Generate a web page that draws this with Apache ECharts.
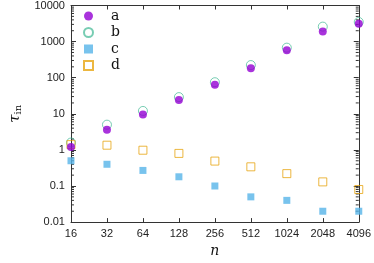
<!DOCTYPE html>
<html><head><meta charset="utf-8">
<script src="https://cdn.jsdelivr.net/npm/echarts@6/dist/echarts.min.js"></script>
<style>html,body{margin:0;padding:0;background:#fff}#c{width:374px;height:263px}</style>
</head><body><div id="c"></div>
<script>
const nValues = [16, 32, 64, 128, 256, 512, 1024, 2048, 4096];
const seriesA = [1.2, 3.6, 9.5, 24, 64, 183, 580, 1900, 3100];
const seriesB = [1.6, 5.0, 12, 29, 75, 224, 680, 2600, 3500];
const seriesC = [0.5, 0.4, 0.27, 0.18, 0.1, 0.05, 0.04, 0.02, 0.02];
const seriesD = [1.4, 1.35, 0.98, 0.8, 0.49, 0.34, 0.22, 0.13, 0.08];
const yTickLabels = ['0.01', '0.1', '1', '10', '100', '1000', '10000'];
const xTickLabels = ['16', '32', '64', '128', '256', '512', '1024', '2048', '4096'];

const minorTicks = [];
for (let e = -2; e < 4; e++) for (let m = 2; m <= 9; m++) minorTicks.push([16, m * Math.pow(10, e)]);

const pair = arr => nValues.map((n, i) => [n, arr[i]]);
const axisColor = '#333';
const labelFont = {fontFamily: 'Liberation Sans', fontSize: 11, color: '#222'};

const yFmt = v => yTickLabels[Math.round(Math.log10(v)) + 2] || '';
const xFmt = v => xTickLabels[Math.round(Math.log2(v)) - 4] || '';

const chart = echarts.init(document.getElementById('c'));
chart.setOption({
  animation: false,
  grid: {left: 61, right: 14, top: 5, bottom: 31},
  legend: {
    orient: 'vertical', left: 83, top: 9, itemWidth: 9, itemHeight: 9, itemGap: 2.5, padding: 0,
    textStyle: {fontFamily: 'DejaVu Serif', fontSize: 14, lineHeight: 14, color: '#111', padding: [0, 0, 0, 13]},
    data: ['a', 'b', 'c', 'd']
  },
  xAxis: [{
    type: 'log', logBase: 2, min: 16, max: 4096, splitNumber: 8,
    name: 'n', nameLocation: 'middle', nameGap: 17,
    nameTextStyle: {fontFamily: 'DejaVu Serif', fontStyle: 'italic', fontSize: 14, color: '#111'},
    axisLine: {lineStyle: {color: axisColor}},
    axisTick: {inside: true, length: 4, lineStyle: {color: axisColor}},
    axisLabel: Object.assign({formatter: xFmt, margin: 6}, labelFont),
    splitLine: {show: false}
  }, {
    type: 'log', logBase: 2, min: 16, max: 4096, splitNumber: 8, position: 'top',
    axisLine: {lineStyle: {color: axisColor}},
    axisTick: {inside: true, length: 4, lineStyle: {color: axisColor}},
    axisLabel: {show: false}, splitLine: {show: false}
  }],
  yAxis: [{
    type: 'log', logBase: 10, min: 0.01, max: 10000, splitNumber: 6,
    name: '{t|τ}{s|in}', nameLocation: 'middle', nameRotate: 90, nameGap: 38,
    nameTextStyle: {
      rich: {
        t: {fontFamily: 'DejaVu Serif', fontStyle: 'italic', fontSize: 15, color: '#111'},
        s: {fontFamily: 'DejaVu Serif', fontSize: 10, color: '#111', padding: [6, 0, 0, 0]}
      }
    },
    axisLine: {lineStyle: {color: axisColor}},
    axisTick: {inside: true, length: 5, lineStyle: {color: axisColor}},
    axisLabel: Object.assign({formatter: yFmt, margin: 6}, labelFont),
    splitLine: {show: false}
  }, {
    type: 'log', logBase: 10, min: 0.01, max: 10000, splitNumber: 6, position: 'right',
    axisLine: {lineStyle: {color: axisColor}},
    axisTick: {inside: true, length: 5, lineStyle: {color: axisColor}},
    axisLabel: {show: false}, splitLine: {show: false}
  }],
  series: [
    {type: 'custom', silent: true, xAxisIndex: 0, yAxisIndex: 0, data: minorTicks, z: 1,
     renderItem: (params, api) => {
       const v = api.value(1);
       const l = api.coord([16, v]);
       const r = api.coord([4096, v]);
       const st = {stroke: axisColor, lineWidth: 1};
       return {type: 'group', children: [
         {type: 'line', shape: {x1: l[0], y1: l[1], x2: l[0] + 3, y2: l[1]}, style: st},
         {type: 'line', shape: {x1: r[0] - 3, y1: r[1], x2: r[0], y2: r[1]}, style: st}
       ]};
     }},
    {name: 'b', type: 'scatter', data: pair(seriesB), symbol: 'circle', symbolSize: 9,
     itemStyle: {color: 'rgba(0,0,0,0)', borderColor: '#3fb893', borderWidth: 1, opacity: 0.7}, z: 3},
    {name: 'a', type: 'scatter', data: pair(seriesA), symbol: 'circle', symbolSize: 8,
     itemStyle: {color: '#9400d3'}, z: 4},
    {name: 'c', type: 'scatter', data: pair(seriesC), symbol: 'rect', symbolSize: 7,
     itemStyle: {color: '#56b4e9'}, z: 3},
    {name: 'd', type: 'scatter', data: pair(seriesD), symbol: 'rect', symbolSize: 8,
     itemStyle: {color: 'rgba(0,0,0,0)', borderColor: '#e69f00', borderWidth: 1, opacity: 0.75}, z: 3}
  ]
});
</script></body></html>
